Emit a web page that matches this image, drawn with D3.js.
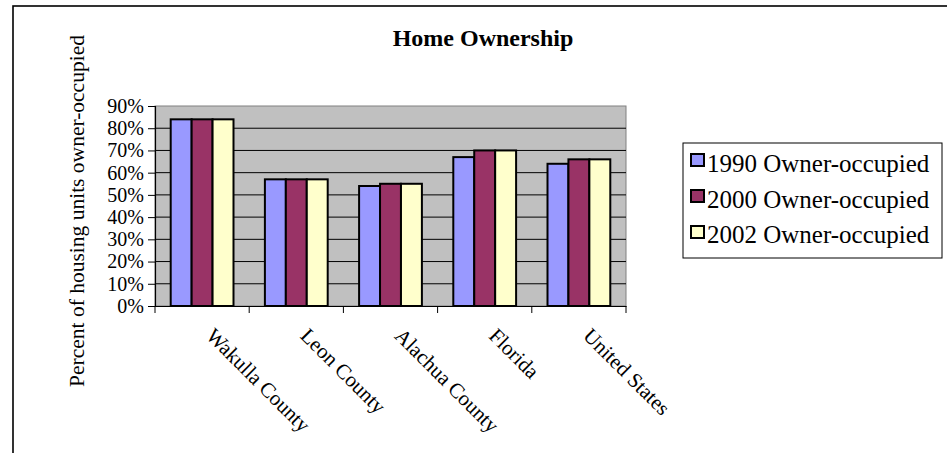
<!DOCTYPE html>
<html><head><meta charset="utf-8">
<script src="https://cdn.jsdelivr.net/npm/d3@7"></script>
<style>body{margin:0;background:#fff}svg{display:block;font-family:'Liberation Serif',serif}</style>
</head><body>
<svg id="c" width="947" height="453"></svg>
<script>
const categories = ["Wakulla County","Leon County","Alachua County","Florida","United States"];
const seriesNames = ["1990 Owner-occupied","2000 Owner-occupied","2002 Owner-occupied"];
const v1990 = [84,57,54,67,64];
const v2000 = [84,57,55,70,66];
const v2002 = [84,57,55,70,66];
const yTicks = [0,10,20,30,40,50,60,70,80,90];
const colors = ["#9999FF","#993366","#FFFFCC"];
const seriesValues = [v1990,v2000,v2002];

const svg = d3.select("#c");
const font = "Liberation Serif, serif";
const L=155,R=626,T=106,B=306;

svg.append("rect").attr("x",13).attr("y",6).attr("width",960).attr("height",470)
  .attr("fill","none").attr("stroke","#000").attr("stroke-width",1.6);

const x = d3.scaleBand().domain(categories).range([L,R]).paddingInner(0).paddingOuter(0);
const bw = x.bandwidth()/4.5; // three bars + 150% gap
const y = d3.scaleLinear().domain([0,90]).range([B,T]);

svg.append("rect").attr("x",L).attr("y",T).attr("width",R-L).attr("height",B-T)
  .attr("fill","#C0C0C0").attr("stroke","#808080").attr("stroke-width",1);

svg.append("g").selectAll("line").data(yTicks.filter(t=>t>0&&t<90)).join("line")
  .attr("x1",L).attr("x2",R).attr("y1",d=>y(d)).attr("y2",d=>y(d))
  .attr("stroke","#000").attr("stroke-width",1);

categories.forEach((c,i)=>{
  const x0 = x(c) + (x.bandwidth()-3*bw)/2;
  seriesValues.forEach((vals,s)=>{
    svg.append("rect").attr("x",x0+s*bw).attr("y",y(vals[i]))
      .attr("width",bw).attr("height",B-y(vals[i]))
      .attr("fill",colors[s]).attr("stroke","#000").attr("stroke-width",2);
  });
});

const ya = svg.append("g").attr("transform",`translate(${L},0)`)
  .call(d3.axisLeft(y).tickValues(yTicks).tickFormat(d=>d+"%").tickSize(7).tickPadding(4));
ya.attr("font-family",font).attr("font-size",20);
ya.select(".domain").attr("stroke","#000").attr("stroke-width",1.2);
ya.selectAll("line").attr("stroke","#000");
ya.selectAll("text").attr("fill","#000");

const xa = svg.append("g").attr("transform",`translate(0,${B})`)
  .call(d3.axisBottom(x).tickSize(0).tickFormat(""));
xa.select(".domain").attr("stroke","#000").attr("stroke-width",1.2);
const tickPos = categories.map(c=>x(c)).concat([R]);
svg.append("g").selectAll("line").data(tickPos).join("line")
  .attr("x1",d=>d).attr("x2",d=>d).attr("y1",B).attr("y2",B+7).attr("stroke","#000");

svg.append("g").attr("font-family",font).attr("font-size",21)
  .selectAll("text").data(categories).join("text")
  .attr("transform",d=>`translate(${x(d)+x.bandwidth()/2+3},${B+31}) rotate(45)`)
  .attr("text-anchor","start").text(d=>d);

svg.append("text").attr("x",483).attr("y",46).attr("text-anchor","middle")
  .attr("font-family",font).attr("font-size",24).attr("font-weight","bold")
  .text("Home Ownership");

svg.append("text").attr("transform","translate(84,211) rotate(-90)").attr("text-anchor","middle")
  .attr("font-family",font).attr("font-size",21.5).text("Percent of housing units owner-occupied");

const lg = svg.append("g").attr("font-family",font).attr("font-size",25);
lg.append("rect").attr("x",683).attr("y",143).attr("width",259).attr("height",115)
  .attr("fill","#fff").attr("stroke","#000").attr("stroke-width",1);
seriesNames.forEach((n,s)=>{
  lg.append("rect").attr("x",691).attr("y",154+s*36).attr("width",13).attr("height",12)
    .attr("fill",colors[s]).attr("stroke","#000").attr("stroke-width",2);
  lg.append("text").attr("x",707).attr("y",172+s*35.7).text(n);
});
</script>
</body></html>
